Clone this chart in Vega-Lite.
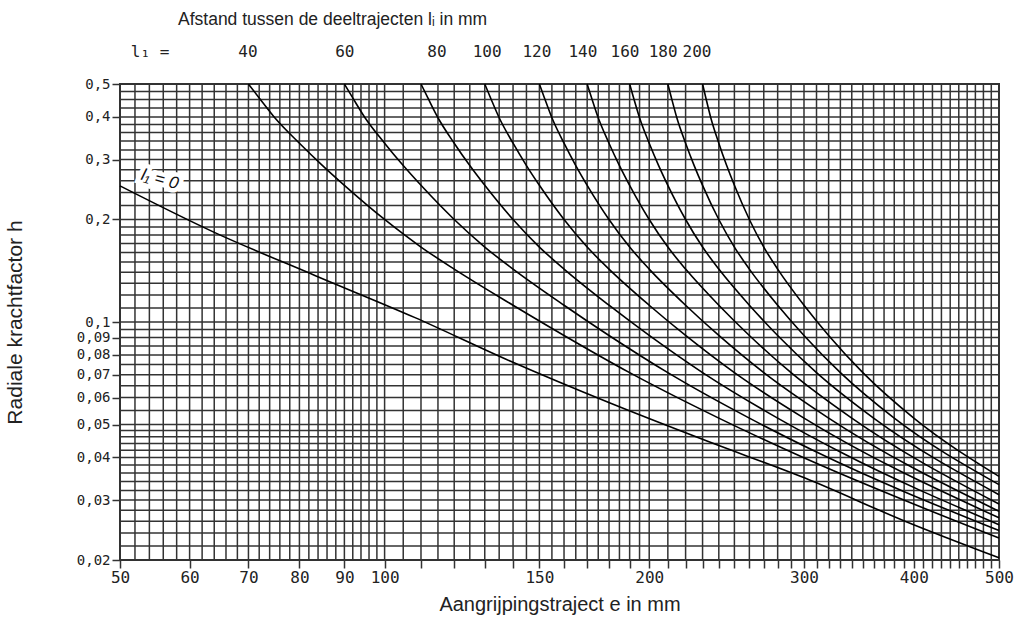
{
  "$schema": "https://vega.github.io/schema/vega-lite/v6.json",
  "width": 879,
  "height": 476,
  "autosize": {"type": "none"},
  "padding": {"left": 120, "top": 84, "right": 16, "bottom": 65},
  "background": "white",
  "title": {
    "text": "Afstand tussen de deeltrajecten lᵢ in mm",
    "anchor": "start",
    "frame": "group",
    "dx": 58,
    "offset": 16,
    "font": "Liberation Sans",
    "fontSize": 17.5,
    "fontWeight": "normal",
    "color": "#222"
  },
  "datasets": {
    "curves": [
      {"l1": "0", "e": 50, "h": 0.251}, {"l1": "0", "e": 64.1, "h": 0.183}, {"l1": "0", "e": 83.3, "h": 0.137}, {"l1": "0", "e": 108.3, "h": 0.103}, {"l1": "0", "e": 138.9, "h": 0.0768}, {"l1": "0", "e": 180.5, "h": 0.0578}, {"l1": "0", "e": 232.7, "h": 0.0447}, {"l1": "0", "e": 300.8, "h": 0.0348}, {"l1": "0", "e": 390.9, "h": 0.026}, {"l1": "0", "e": 500, "h": 0.0203},
      {"l1": "40", "e": 70, "h": 0.5}, {"l1": "40", "e": 72, "h": 0.455}, {"l1": "40", "e": 75, "h": 0.398}, {"l1": "40", "e": 80, "h": 0.335}, {"l1": "40", "e": 85, "h": 0.288}, {"l1": "40", "e": 90, "h": 0.252}, {"l1": "40", "e": 100, "h": 0.2}, {"l1": "40", "e": 110, "h": 0.166}, {"l1": "40", "e": 120, "h": 0.143}, {"l1": "40", "e": 140, "h": 0.112}, {"l1": "40", "e": 160, "h": 0.0913}, {"l1": "40", "e": 190, "h": 0.071}, {"l1": "40", "e": 240, "h": 0.0522}, {"l1": "40", "e": 290, "h": 0.0415}, {"l1": "40", "e": 500, "h": 0.0232},
      {"l1": "60", "e": 90, "h": 0.5}, {"l1": "60", "e": 92, "h": 0.455}, {"l1": "60", "e": 95, "h": 0.398}, {"l1": "60", "e": 100, "h": 0.335}, {"l1": "60", "e": 105, "h": 0.288}, {"l1": "60", "e": 110, "h": 0.252}, {"l1": "60", "e": 120, "h": 0.2}, {"l1": "60", "e": 130, "h": 0.166}, {"l1": "60", "e": 140, "h": 0.143}, {"l1": "60", "e": 160, "h": 0.112}, {"l1": "60", "e": 180, "h": 0.0913}, {"l1": "60", "e": 210, "h": 0.071}, {"l1": "60", "e": 260, "h": 0.0522}, {"l1": "60", "e": 310, "h": 0.0415}, {"l1": "60", "e": 500, "h": 0.0244},
      {"l1": "80", "e": 110, "h": 0.5}, {"l1": "80", "e": 112, "h": 0.455}, {"l1": "80", "e": 115, "h": 0.398}, {"l1": "80", "e": 120, "h": 0.335}, {"l1": "80", "e": 125, "h": 0.288}, {"l1": "80", "e": 130, "h": 0.252}, {"l1": "80", "e": 140, "h": 0.2}, {"l1": "80", "e": 150, "h": 0.166}, {"l1": "80", "e": 160, "h": 0.143}, {"l1": "80", "e": 180, "h": 0.112}, {"l1": "80", "e": 200, "h": 0.0913}, {"l1": "80", "e": 230, "h": 0.071}, {"l1": "80", "e": 280, "h": 0.0522}, {"l1": "80", "e": 330, "h": 0.0415}, {"l1": "80", "e": 500, "h": 0.0254},
      {"l1": "100", "e": 130, "h": 0.5}, {"l1": "100", "e": 132, "h": 0.455}, {"l1": "100", "e": 135, "h": 0.398}, {"l1": "100", "e": 140, "h": 0.335}, {"l1": "100", "e": 145, "h": 0.288}, {"l1": "100", "e": 150, "h": 0.252}, {"l1": "100", "e": 160, "h": 0.2}, {"l1": "100", "e": 170, "h": 0.166}, {"l1": "100", "e": 180, "h": 0.143}, {"l1": "100", "e": 200, "h": 0.112}, {"l1": "100", "e": 220, "h": 0.0913}, {"l1": "100", "e": 250, "h": 0.071}, {"l1": "100", "e": 300, "h": 0.0522}, {"l1": "100", "e": 500, "h": 0.0266},
      {"l1": "120", "e": 150, "h": 0.5}, {"l1": "120", "e": 152, "h": 0.455}, {"l1": "120", "e": 155, "h": 0.398}, {"l1": "120", "e": 160, "h": 0.335}, {"l1": "120", "e": 165, "h": 0.288}, {"l1": "120", "e": 170, "h": 0.252}, {"l1": "120", "e": 180, "h": 0.2}, {"l1": "120", "e": 190, "h": 0.166}, {"l1": "120", "e": 200, "h": 0.143}, {"l1": "120", "e": 220, "h": 0.112}, {"l1": "120", "e": 240, "h": 0.0913}, {"l1": "120", "e": 270, "h": 0.071}, {"l1": "120", "e": 320, "h": 0.0522}, {"l1": "120", "e": 500, "h": 0.0278},
      {"l1": "140", "e": 170, "h": 0.5}, {"l1": "140", "e": 172, "h": 0.455}, {"l1": "140", "e": 175, "h": 0.398}, {"l1": "140", "e": 180, "h": 0.335}, {"l1": "140", "e": 185, "h": 0.288}, {"l1": "140", "e": 190, "h": 0.252}, {"l1": "140", "e": 200, "h": 0.2}, {"l1": "140", "e": 210, "h": 0.166}, {"l1": "140", "e": 220, "h": 0.143}, {"l1": "140", "e": 240, "h": 0.112}, {"l1": "140", "e": 260, "h": 0.0913}, {"l1": "140", "e": 290, "h": 0.071}, {"l1": "140", "e": 340, "h": 0.0522}, {"l1": "140", "e": 500, "h": 0.0292},
      {"l1": "160", "e": 190, "h": 0.5}, {"l1": "160", "e": 192, "h": 0.455}, {"l1": "160", "e": 195, "h": 0.398}, {"l1": "160", "e": 200, "h": 0.335}, {"l1": "160", "e": 205, "h": 0.288}, {"l1": "160", "e": 210, "h": 0.252}, {"l1": "160", "e": 220, "h": 0.2}, {"l1": "160", "e": 230, "h": 0.166}, {"l1": "160", "e": 240, "h": 0.143}, {"l1": "160", "e": 260, "h": 0.112}, {"l1": "160", "e": 280, "h": 0.0913}, {"l1": "160", "e": 310, "h": 0.071}, {"l1": "160", "e": 360, "h": 0.0522}, {"l1": "160", "e": 500, "h": 0.0311},
      {"l1": "180", "e": 210, "h": 0.5}, {"l1": "180", "e": 212, "h": 0.455}, {"l1": "180", "e": 215, "h": 0.398}, {"l1": "180", "e": 220, "h": 0.335}, {"l1": "180", "e": 225, "h": 0.288}, {"l1": "180", "e": 230, "h": 0.252}, {"l1": "180", "e": 240, "h": 0.2}, {"l1": "180", "e": 250, "h": 0.166}, {"l1": "180", "e": 260, "h": 0.143}, {"l1": "180", "e": 280, "h": 0.112}, {"l1": "180", "e": 300, "h": 0.0913}, {"l1": "180", "e": 330, "h": 0.071}, {"l1": "180", "e": 380, "h": 0.0522}, {"l1": "180", "e": 500, "h": 0.0333},
      {"l1": "200", "e": 230, "h": 0.5}, {"l1": "200", "e": 232, "h": 0.455}, {"l1": "200", "e": 235, "h": 0.398}, {"l1": "200", "e": 240, "h": 0.335}, {"l1": "200", "e": 245, "h": 0.288}, {"l1": "200", "e": 250, "h": 0.252}, {"l1": "200", "e": 260, "h": 0.2}, {"l1": "200", "e": 270, "h": 0.166}, {"l1": "200", "e": 280, "h": 0.143}, {"l1": "200", "e": 300, "h": 0.112}, {"l1": "200", "e": 320, "h": 0.0913}, {"l1": "200", "e": 350, "h": 0.071}, {"l1": "200", "e": 400, "h": 0.0522}, {"l1": "200", "e": 500, "h": 0.0352}
    ],
    "xgrid": [
      {"gx": 50}, {"gx": 52}, {"gx": 54}, {"gx": 56}, {"gx": 58}, {"gx": 60}, {"gx": 62}, {"gx": 64}, {"gx": 66}, {"gx": 68}, {"gx": 70}, {"gx": 72}, {"gx": 74}, {"gx": 76}, {"gx": 78}, {"gx": 80}, {"gx": 82}, {"gx": 84}, {"gx": 86}, {"gx": 88}, {"gx": 90}, {"gx": 92}, {"gx": 94}, {"gx": 96}, {"gx": 98}, {"gx": 100},
      {"gx": 105}, {"gx": 110}, {"gx": 115}, {"gx": 120}, {"gx": 125}, {"gx": 130}, {"gx": 135}, {"gx": 140}, {"gx": 145}, {"gx": 150}, {"gx": 155}, {"gx": 160}, {"gx": 165}, {"gx": 170}, {"gx": 175}, {"gx": 180}, {"gx": 185}, {"gx": 190}, {"gx": 195}, {"gx": 200},
      {"gx": 210}, {"gx": 220}, {"gx": 230}, {"gx": 240}, {"gx": 250}, {"gx": 260}, {"gx": 270}, {"gx": 280}, {"gx": 290}, {"gx": 300}, {"gx": 310}, {"gx": 320}, {"gx": 330}, {"gx": 340}, {"gx": 350}, {"gx": 360}, {"gx": 370}, {"gx": 380}, {"gx": 390}, {"gx": 400}, {"gx": 410}, {"gx": 420}, {"gx": 430}, {"gx": 440}, {"gx": 450}, {"gx": 460}, {"gx": 470}, {"gx": 480}, {"gx": 490}, {"gx": 500}
    ],
    "ygrid": [
      {"gy": 0.02}, {"gy": 0.022}, {"gy": 0.024}, {"gy": 0.026}, {"gy": 0.028}, {"gy": 0.03}, {"gy": 0.032}, {"gy": 0.034}, {"gy": 0.036}, {"gy": 0.038}, {"gy": 0.04}, {"gy": 0.042}, {"gy": 0.044}, {"gy": 0.046}, {"gy": 0.048}, {"gy": 0.05},
      {"gy": 0.055}, {"gy": 0.06}, {"gy": 0.065}, {"gy": 0.07}, {"gy": 0.075}, {"gy": 0.08}, {"gy": 0.085}, {"gy": 0.09}, {"gy": 0.095}, {"gy": 0.1},
      {"gy": 0.11}, {"gy": 0.12}, {"gy": 0.13}, {"gy": 0.14}, {"gy": 0.15}, {"gy": 0.16}, {"gy": 0.17}, {"gy": 0.18}, {"gy": 0.19}, {"gy": 0.2},
      {"gy": 0.22}, {"gy": 0.24}, {"gy": 0.26}, {"gy": 0.28}, {"gy": 0.3}, {"gy": 0.32}, {"gy": 0.34}, {"gy": 0.36}, {"gy": 0.38}, {"gy": 0.4},
      {"gy": 0.425}, {"gy": 0.45}, {"gy": 0.475}, {"gy": 0.5}
    ],
    "toplabels": [
      {"e": 54.1, "lab": "l₁ ="}, {"e": 69.9, "lab": "40"}, {"e": 90.1, "lab": "60"}, {"e": 114.7, "lab": "80"}, {"e": 130.8, "lab": "100"}, {"e": 149.0, "lab": "120"}, {"e": 168.1, "lab": "140"}, {"e": 187.7, "lab": "160"}, {"e": 207.4, "lab": "180"}, {"e": 226.7, "lab": "200"}
    ],
    "note": [{"e": 55.5, "h": 0.262, "lab": "l₁ = 0"}]
  },
  "layer": [
    {
      "data": {"name": "xgrid"},
      "mark": {"type": "rule", "color": "#333", "strokeWidth": 1.5},
      "encoding": {
        "x": {"field": "gx", "type": "quantitative", "scale": {"type": "log", "domain": [50, 500], "nice": false}}
      }
    },
    {
      "data": {"name": "ygrid"},
      "mark": {"type": "rule", "color": "#333", "strokeWidth": 1.5},
      "encoding": {
        "y": {"field": "gy", "type": "quantitative", "scale": {"type": "log", "domain": [0.02, 0.5], "nice": false}}
      }
    },
    {
      "data": {"name": "curves"},
      "mark": {"type": "line", "color": "#000", "strokeWidth": 1.6, "interpolate": "monotone"},
      "encoding": {
        "x": {
          "field": "e", "type": "quantitative",
          "scale": {"type": "log", "domain": [50, 500], "nice": false},
          "axis": {
            "values": [50, 60, 70, 80, 90, 100, 110, 120, 130, 140, 150, 160, 170, 180, 190, 200, 210, 220, 230, 240, 250, 260, 270, 280, 290, 300, 310, 320, 330, 340, 350, 360, 370, 380, 390, 400, 410, 420, 430, 440, 450, 460, 470, 480, 490, 500],
            "labelExpr": "indexof([50,60,70,80,90,100,150,200,300,400,500], datum.value) >= 0 ? datum.label : ''",
            "format": "d",
            "grid": false,
            "domain": false,
            "ticks": true,
            "tickColor": "#333",
            "tickSize": 8,
            "tickWidth": 1.5,
            "labelOverlap": false,
            "labelFlush": false,
            "labelBound": false,
            "labelFont": "DejaVu Sans Mono",
            "labelFontSize": 16,
            "labelColor": "#222",
            "labelPadding": 1,
            "title": "Aangrijpingstraject e in mm",
            "titleFont": "Liberation Sans",
            "titleFontSize": 20,
            "titleFontWeight": "normal",
            "titleColor": "#222",
            "titlePadding": 9
          }
        },
        "y": {
          "field": "h", "type": "quantitative",
          "scale": {"type": "log", "domain": [0.02, 0.5], "nice": false},
          "axis": {
            "values": [0.5, 0.4, 0.3, 0.2, 0.1, 0.09, 0.08, 0.07, 0.06, 0.05, 0.04, 0.03, 0.02],
            "labelExpr": "replace(format(datum.value, '.2~f'), '.', ',')",
            "grid": false,
            "domain": false,
            "tickColor": "#333",
            "tickSize": 8,
            "tickWidth": 1.5,
            "labelOverlap": false,
            "labelBound": false,
            "labelFlush": false,
            "labelFont": "DejaVu Sans Mono",
            "labelFontSize": 14,
            "labelColor": "#222",
            "labelPadding": 2,
            "title": "Radiale krachtfactor h",
            "titleFont": "Liberation Sans",
            "titleFontSize": 21,
            "titleFontWeight": "normal",
            "titleColor": "#222",
            "titlePadding": 51
          }
        },
        "detail": {"field": "l1", "type": "nominal"}
      }
    },
    {
      "data": {"name": "toplabels"},
      "mark": {"type": "text", "font": "DejaVu Sans Mono", "fontSize": 16, "color": "#222", "align": "center", "baseline": "middle"},
      "encoding": {
        "x": {"field": "e", "type": "quantitative", "scale": {"type": "log", "domain": [50, 500], "nice": false}},
        "y": {"datum": 0.62, "type": "quantitative", "scale": {"type": "log", "domain": [0.02, 0.5], "nice": false}},
        "text": {"field": "lab"}
      }
    },
    {
      "data": {"name": "note"},
      "mark": {"type": "text", "font": "Liberation Sans", "fontSize": 17, "fontStyle": "italic", "fill": "white", "stroke": "white", "strokeWidth": 9, "angle": 15, "align": "center", "baseline": "middle"},
      "encoding": {
        "x": {"field": "e", "type": "quantitative", "scale": {"type": "log", "domain": [50, 500], "nice": false}},
        "y": {"field": "h", "type": "quantitative", "scale": {"type": "log", "domain": [0.02, 0.5], "nice": false}},
        "text": {"field": "lab"}
      }
    },
    {
      "data": {"name": "note"},
      "mark": {"type": "text", "font": "Liberation Sans", "fontSize": 17, "fontStyle": "italic", "color": "#111", "angle": 15, "align": "center", "baseline": "middle"},
      "encoding": {
        "x": {"field": "e", "type": "quantitative", "scale": {"type": "log", "domain": [50, 500], "nice": false}},
        "y": {"field": "h", "type": "quantitative", "scale": {"type": "log", "domain": [0.02, 0.5], "nice": false}},
        "text": {"field": "lab"}
      }
    }
  ],
  "config": {"view": {"stroke": "#333", "strokeWidth": 2}}
}
